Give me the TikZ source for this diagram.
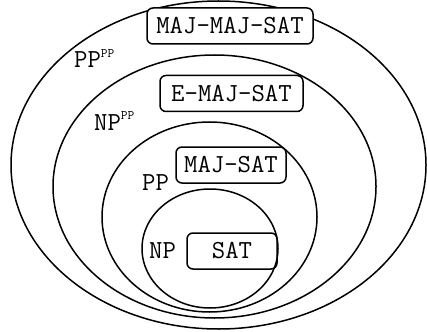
\documentclass[tikz,border=0pt]{standalone}
\usepackage{fontspec}
\newcommand{\supPP}{\raisebox{10pt}{\fontsize{13}{13}\selectfont PP}}
\begin{document}
\begin{tikzpicture}[x=1pt,y=-1pt,
  ring/.style={draw, line width=1.5pt},
  prob/.style={draw, line width=1.5pt, rounded corners=6pt,
    font=\ttfamily\fontsize{26}{28}\selectfont, inner sep=0pt, minimum height=36pt},
  cls/.style={font=\ttfamily\fontsize{26}{28}\selectfont, inner sep=0pt, anchor=base west}]
\useasboundingbox (0,0) rectangle (427,331);
\draw[ring] (218.5,165) ellipse [x radius=207.5pt, y radius=164pt];
\draw[ring] (214.5,186.5) ellipse [x radius=161.5pt, y radius=131.5pt];
\draw[ring] (209.5,217) ellipse [x radius=107.5pt, y radius=95pt];
\draw[ring] (210,248.5) ellipse [x radius=68pt, y radius=59.5pt];
\node[prob, minimum width=166pt, fill=white] (mms) at (230,26) {MAJ-MAJ-SAT};
\node[prob, minimum width=143pt] (ems) at (231.5,93.5) {E-MAJ-SAT};
\node[prob, minimum width=110pt] (ms) at (231,165) {MAJ-SAT};
\node[prob, minimum width=90pt] (sat) at (232,251) {SAT};
\node[cls] (pppp) at (74,68) {PP\supPP};
\node[cls] (nppp) at (94,130) {NP\supPP};
\node[cls] (pp) at (142,190.5) {PP};
\node[cls] (np) at (149,258) {NP};
\end{tikzpicture}
\end{document}
